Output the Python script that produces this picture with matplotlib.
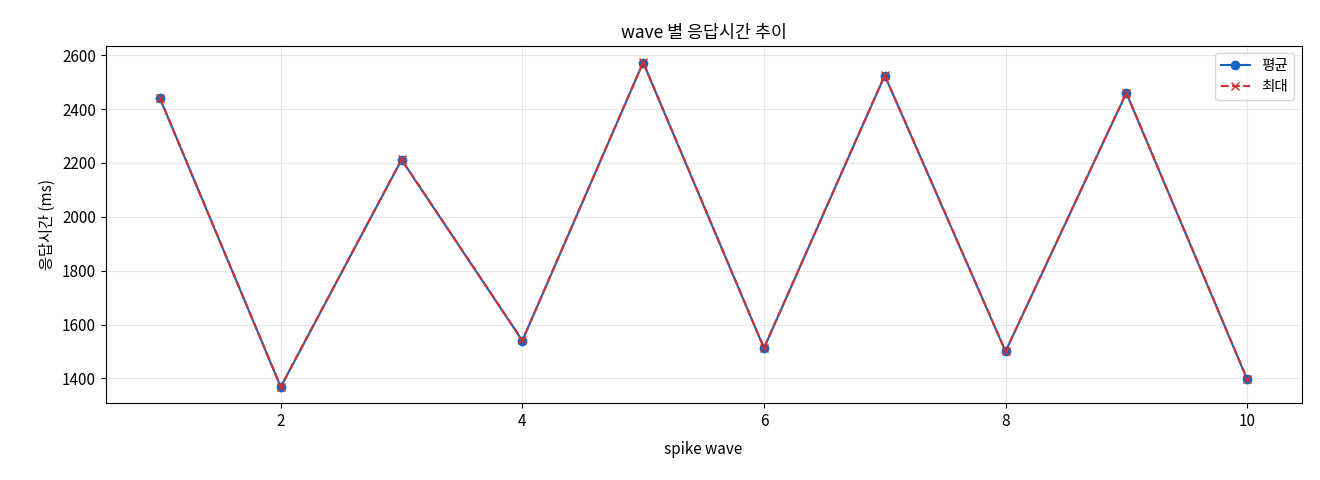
import matplotlib
matplotlib.use("Agg")
import matplotlib.pyplot as plt

plt.rcParams["font.family"] = ["Noto Sans CJK KR", "DejaVu Sans"]
plt.rcParams["axes.unicode_minus"] = False

waves = [1, 2, 3, 4, 5, 6, 7, 8, 9, 10]
avg_ms = [2440, 1368, 2212, 1540, 2573, 1512, 2525, 1500, 2460, 1396]
max_ms = [2441, 1369, 2213, 1541, 2574, 1513, 2526, 1501, 2461, 1397]

fig, ax = plt.subplots(figsize=(13.2, 4.8), dpi=100)
fig.subplots_adjust(left=0.08, right=0.986, top=0.904, bottom=0.16)

ax.plot(waves, avg_ms, color="#1565c0", marker="o", linewidth=1.5, label="평균")
ax.plot(waves, max_ms, color="#d32f2f", marker="x", linestyle="--", linewidth=1.5, label="최대")

ax.set_title("wave 별 응답시간 추이", fontsize=12.5)
ax.set_xlabel("spike wave", fontsize=11, labelpad=8)
ax.set_ylabel("응답시간 (ms)", fontsize=11)
ax.tick_params(labelsize=11)
ax.grid(True, alpha=0.3)
ax.legend(loc="upper right", fontsize=10.5)

plt.savefig("out.png", dpi=100, facecolor="white")
plt.close()
